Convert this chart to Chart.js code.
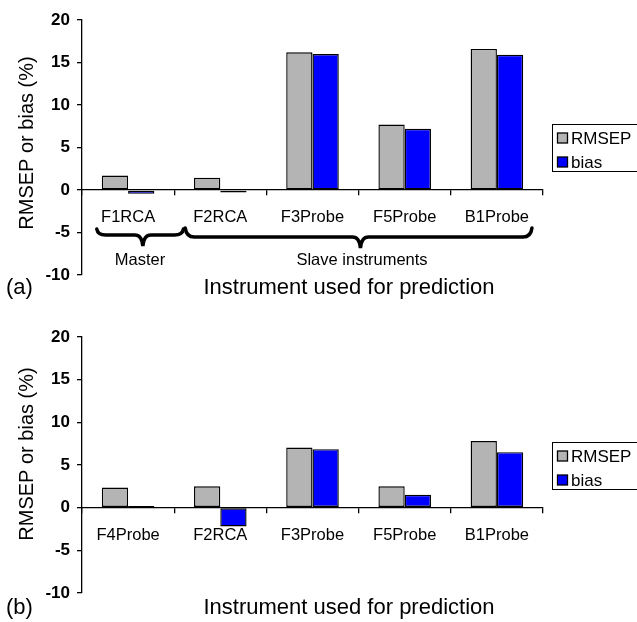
<!DOCTYPE html>
<html><head><meta charset="utf-8">
<script src="https://cdn.jsdelivr.net/npm/chart.js@4/dist/chart.umd.min.js"></script>
<style>
html,body{margin:0;padding:0;background:#fff;width:637px;height:622px;overflow:hidden}
canvas{position:absolute;left:0}
#ca{top:0}#cb{top:311px}
</style></head><body>
<canvas id="ca" width="637" height="311"></canvas>
<canvas id="cb" width="637" height="311"></canvas>
<script>
// ---- data ----
const categoriesA = ['F1RCA', 'F2RCA', 'F3Probe', 'F5Probe', 'B1Probe'];
const rmsepA = [1.7, 1.45, 16.2, 7.7, 16.6];
const biasA = [-0.45, -0.3, 16.0, 7.2, 15.9];

const categoriesB = ['F4Probe', 'F2RCA', 'F3Probe', 'F5Probe', 'B1Probe'];
const rmsepB = [2.35, 2.5, 7.05, 2.5, 7.8];
const biasB = [0.2, -2.2, 6.85, 1.5, 6.5];

const seriesNames = ['RMSEP', 'bias'];
const yMin = -10, yMax = 20, yStep = 5;
const yTitle = 'RMSEP or bias (%)';
const xTitle = 'Instrument used for prediction';
const groupLabels = ['Master', 'Slave instruments'];

const FONT = "'Liberation Sans', Arial, Helvetica, sans-serif";
const GRAY = '#b4b4b4', BLUE = '#0000ff';

function brace(ctx, x1, x2, xt, yTop, yLine, yTip) {
  ctx.beginPath();
  ctx.moveTo(x1, yTop);
  ctx.quadraticCurveTo(x1 + 1, yLine, x1 + 9, yLine);
  ctx.lineTo(xt - 8, yLine);
  ctx.quadraticCurveTo(xt - 1, yLine, xt, yTip);
  ctx.quadraticCurveTo(xt + 1, yLine, xt + 8, yLine);
  ctx.lineTo(x2 - 9, yLine);
  ctx.quadraticCurveTo(x2 - 1, yLine, x2, yTop);
  ctx.stroke();
}

function makeChart(id, cats, rmsep, bias, o) {
  const deco = {
    id: 'deco',
    afterDraw(chart) {
      const ctx = chart.ctx;
      const area = chart.chartArea;
      ctx.save();
      ctx.fillStyle = '#000';
      ctx.strokeStyle = '#000';
      // y title
      ctx.save();
      ctx.translate(27, o.yTitleY);
      ctx.rotate(-Math.PI / 2);
      ctx.font = '20px ' + FONT;
      ctx.textAlign = 'center';
      ctx.textBaseline = 'middle';
      ctx.fillText(yTitle, 0, 0);
      ctx.restore();
      // x title
      ctx.font = '22px ' + FONT;
      ctx.textAlign = 'center';
      ctx.textBaseline = 'middle';
      ctx.fillText(xTitle, 349, o.xTitleY);
      ctx.textAlign = 'left';
      ctx.fillText(o.panel, 6, o.xTitleY);
      // legend
      const lt = o.legendTop;
      ctx.lineWidth = 1;
      ctx.strokeRect(552.5, lt + 0.5, 95, 47);
      const cols = [GRAY, BLUE];
      ctx.font = '17px ' + FONT;
      ctx.textBaseline = 'middle';
      seriesNames.forEach((n, i) => {
        const cy = lt + 14 + i * 24;
        ctx.fillStyle = cols[i];
        ctx.fillRect(557.5, cy - 5, 10, 10);
        ctx.lineWidth = 1.3;
        ctx.strokeRect(557.5, cy - 5, 10, 10);
        ctx.fillStyle = '#000';
        ctx.fillText(n, 571, cy + 1);
      });
      // braces
      if (o.braces) {
        const cw = (area.right - area.left) / cats.length;
        const L = area.left;
        ctx.lineWidth = 3.5;
        ctx.lineCap = 'round';
        brace(ctx, L + 0.16 * cw, L + 1.10 * cw, L + 0.66 * cw, 229, 235, 246);
        brace(ctx, L + 1.12 * cw, area.right - 0.12 * cw, L + 3.02 * cw, 228, 237, 248);
        ctx.font = '16.5px ' + FONT;
        ctx.textAlign = 'center';
        ctx.textBaseline = 'middle';
        ctx.fillText(groupLabels[0], 140, 260);
        ctx.fillText(groupLabels[1], 362, 260);
      }
      ctx.restore();
    }
  };
  return new Chart(document.getElementById(id), {
    type: 'bar',
    data: {
      labels: cats,
      datasets: [
        { label: seriesNames[0], data: rmsep, backgroundColor: GRAY, borderColor: '#000', borderWidth: 1.4, borderSkipped: false },
        { label: seriesNames[1], data: bias, backgroundColor: BLUE, borderColor: '#000', borderWidth: 1.4, borderSkipped: false }
      ]
    },
    options: {
      responsive: false,
      animation: false,
      events: [],
      layout: { padding: { left: 0, right: 94, top: o.padTop, bottom: o.padBottom } },
      datasets: { bar: { categoryPercentage: 0.57, barPercentage: 1.0 } },
      plugins: { legend: { display: false }, tooltip: { enabled: false }, title: { display: false } },
      scales: {
        x: {
          position: { y: 0 },
          offset: true,
          grid: { offset: true, drawOnChartArea: false, tickLength: 5, color: '#000', lineWidth: 1.3 },
          border: { color: '#000', width: 1.3 },
          ticks: { color: '#000', font: { family: FONT, size: 16.5 }, padding: 13, maxRotation: 0 }
        },
        y: {
          position: 'left',
          min: yMin, max: yMax,
          afterFit(s) { s.width = 82; },
          grid: { drawOnChartArea: false, tickLength: 5, color: '#000', lineWidth: 1.3 },
          border: { color: '#000', width: 1.3 },
          ticks: { stepSize: yStep, color: '#000', padding: 7, font: { family: FONT, size: 17, weight: 'bold' } }
        }
      }
    },
    plugins: [deco]
  });
}

makeChart('ca', categoriesA, rmsepA, biasA,
  { padTop: 20, padBottom: 36, panel: '(a)', braces: true, legendTop: 124, yTitleY: 143, xTitleY: 288 });
makeChart('cb', categoriesB, rmsepB, biasB,
  { padTop: 26, padBottom: 29, panel: '(b)', braces: false, legendTop: 131, yTitleY: 143, xTitleY: 297 });
</script>
</body></html>
